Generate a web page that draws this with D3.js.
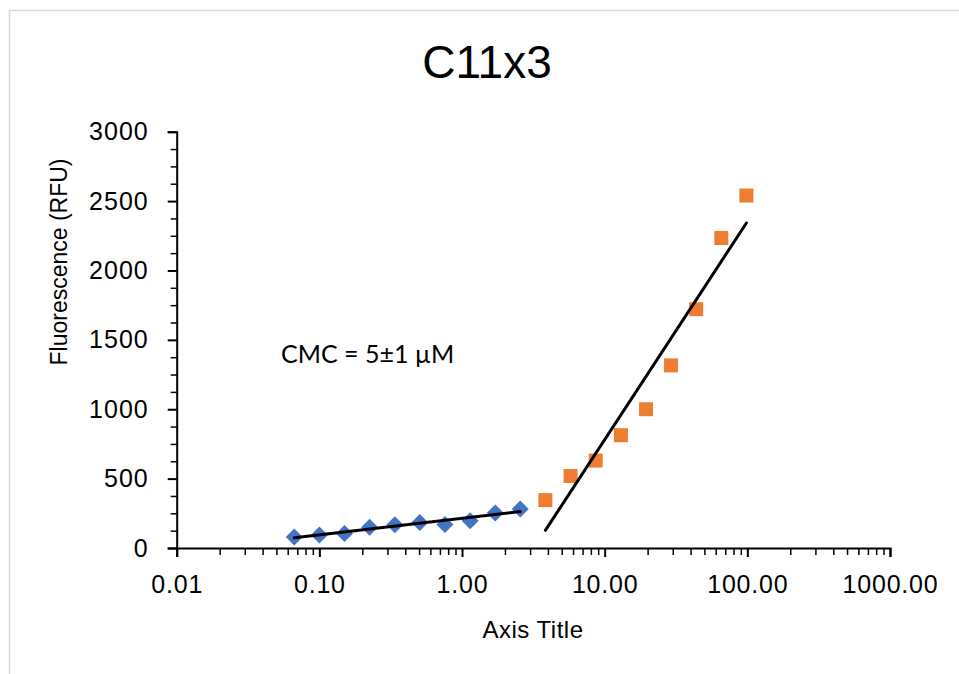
<!DOCTYPE html>
<html lang="en">
<head>
<meta charset="utf-8">
<title>C11x3</title>
<script src="https://cdnjs.cloudflare.com/ajax/libs/d3/7.8.5/d3.min.js"></script>
<style>
  body { margin: 0; background: #fff; }
  svg text { font-family: Arial, "Liberation Sans", sans-serif; fill: #000; }
</style>
</head>
<body>
<div id="chart"></div>
<script>
// premicellar points (blue diamonds)
const lowConc = [0.0667, 0.10, 0.15, 0.225, 0.338, 0.506, 0.759, 1.14, 1.71, 2.56];
const lowRFU  = [80, 94, 104, 150, 168, 184, 170, 196, 253, 281];
// micellar points (orange squares)
const highConc = [3.84, 5.77, 8.65, 13.0, 19.5, 29.2, 43.8, 65.7, 98.5];
const highRFU  = [345, 519, 630, 813, 1000, 1316, 1721, 2234, 2540];

const xTicks = [0.01, 0.1, 1, 10, 100, 1000];
const xTickLabels = ["0.01", "0.10", "1.00", "10.00", "100.00", "1000.00"];
const yTicks = [0, 500, 1000, 1500, 2000, 2500, 3000];
const yTickLabels = ["0", "500", "1000", "1500", "2000", "2500", "3000"];

const width = 959, height = 674;

const svg = d3.select("#chart").append("svg")
  .attr("width", width)
  .attr("height", height);

// chart frame
svg.append("rect")
  .attr("x", 9.5).attr("y", 10.5)
  .attr("width", 970).attr("height", 700)
  .attr("fill", "none")
  .attr("stroke", "#d9d9d9")
  .attr("stroke-width", 1.5);

const x = d3.scaleLog().domain([0.01, 1000]).range([176.7, 890]);
const y = d3.scaleLinear().domain([0, 3000]).range([548, 131.7]);

// title
svg.append("text")
  .attr("x", 487).attr("y", 78)
  .attr("text-anchor", "middle")
  .style("font-size", "46px")
  .text("C11x3");

// minor ticks x
const minorX = [];
for (let e = -2; e < 3; e++) {
  for (let k = 2; k < 10; k++) minorX.push(k * Math.pow(10, e));
}
svg.append("g")
  .attr("transform", "translate(0,548)")
  .call(d3.axisBottom(x).tickValues(minorX).tickSize(7).tickFormat(""))
  .call(g => g.select(".domain").remove())
  .call(g => g.selectAll("line").attr("stroke-width", 1.5));

// major x axis
svg.append("g")
  .attr("transform", "translate(0,548)")
  .call(d3.axisBottom(x).tickValues(xTicks).tickSizeOuter(0).tickSize(9)
    .tickFormat((d, i) => xTickLabels[i]))
  .call(g => g.select(".domain").attr("stroke-width", 2))
  .call(g => g.selectAll("line").attr("stroke-width", 2))
  .call(g => g.selectAll("text")
    .attr("y", 45).attr("dy", 0)
    .style("font-size", "25px")
    .style("letter-spacing", "0.8px")
    .attr("font-family", null));

// minor ticks y (every 125)
const minorY = d3.range(0, 3001, 125).filter(v => v % 500 !== 0);
svg.append("g")
  .attr("transform", "translate(176.7,0)")
  .call(d3.axisLeft(y).tickValues(minorY).tickSize(6).tickFormat(""))
  .call(g => g.select(".domain").remove())
  .call(g => g.selectAll("line").attr("stroke-width", 1.5));

// major y axis
svg.append("g")
  .attr("transform", "translate(176.7,0)")
  .call(d3.axisLeft(y).tickValues(yTicks).tickSizeOuter(0).tickSize(9)
    .tickFormat((d, i) => yTickLabels[i]))
  .call(g => g.select(".domain").attr("stroke-width", 2))
  .call(g => g.selectAll("line").attr("stroke-width", 2))
  .call(g => g.selectAll("text")
    .attr("x", -28)
    .style("font-size", "25px")
    .style("letter-spacing", "1px")
    .attr("font-family", null));

// axis titles
svg.append("text")
  .attr("x", 533).attr("y", 637.5)
  .attr("text-anchor", "middle")
  .style("font-size", "24px")
  .style("letter-spacing", "0.5px")
  .text("Axis Title");

svg.append("text")
  .attr("transform", "translate(67,262) rotate(-90)")
  .attr("text-anchor", "middle")
  .style("font-size", "23px")
  .text("Fluorescence (RFU)");

// annotation
svg.append("text")
  .attr("x", 281).attr("y", 363)
  .style("font-family", "Lato, 'Open Sans', sans-serif")
  .style("font-size", "25px")
  .text("CMC = 5\u00b11 \u00b5M");

// log-linear trendlines
function fitLog(xs, ys) {
  const lx = xs.map(Math.log10);
  const mx = d3.mean(lx), my = d3.mean(ys);
  const b = d3.sum(lx, (v, i) => (v - mx) * (ys[i] - my)) / d3.sum(lx, v => (v - mx) ** 2);
  const a = my - b * mx;
  return v => a + b * Math.log10(v);
}

function drawTrend(xs, ys) {
  const f = fitLog(xs, ys);
  const ends = [d3.min(xs), d3.max(xs)];
  svg.append("line")
    .attr("x1", x(ends[0])).attr("y1", y(f(ends[0])))
    .attr("x2", x(ends[1])).attr("y2", y(f(ends[1])))
    .attr("stroke", "#000")
    .attr("stroke-width", 3)
    .attr("stroke-linecap", "round");
}

const lowData = lowConc.map((c, i) => [c, lowRFU[i]]);
const highData = highConc.map((c, i) => [c, highRFU[i]]);

// blue diamonds
svg.append("g").selectAll("path")
  .data(lowData)
  .join("path")
  .attr("d", "M0,-8.5L8.5,0L0,8.5L-8.5,0Z")
  .attr("transform", d => `translate(${x(d[0])},${y(d[1])})`)
  .attr("fill", "#4472C4");

// orange squares
svg.append("g").selectAll("rect")
  .data(highData)
  .join("rect")
  .attr("x", d => x(d[0]) - 7)
  .attr("y", d => y(d[1]) - 7)
  .attr("width", 14)
  .attr("height", 14)
  .attr("fill", "#ED7D31");

drawTrend(lowConc, lowRFU);
drawTrend(highConc, highRFU);
</script>
</body>
</html>
